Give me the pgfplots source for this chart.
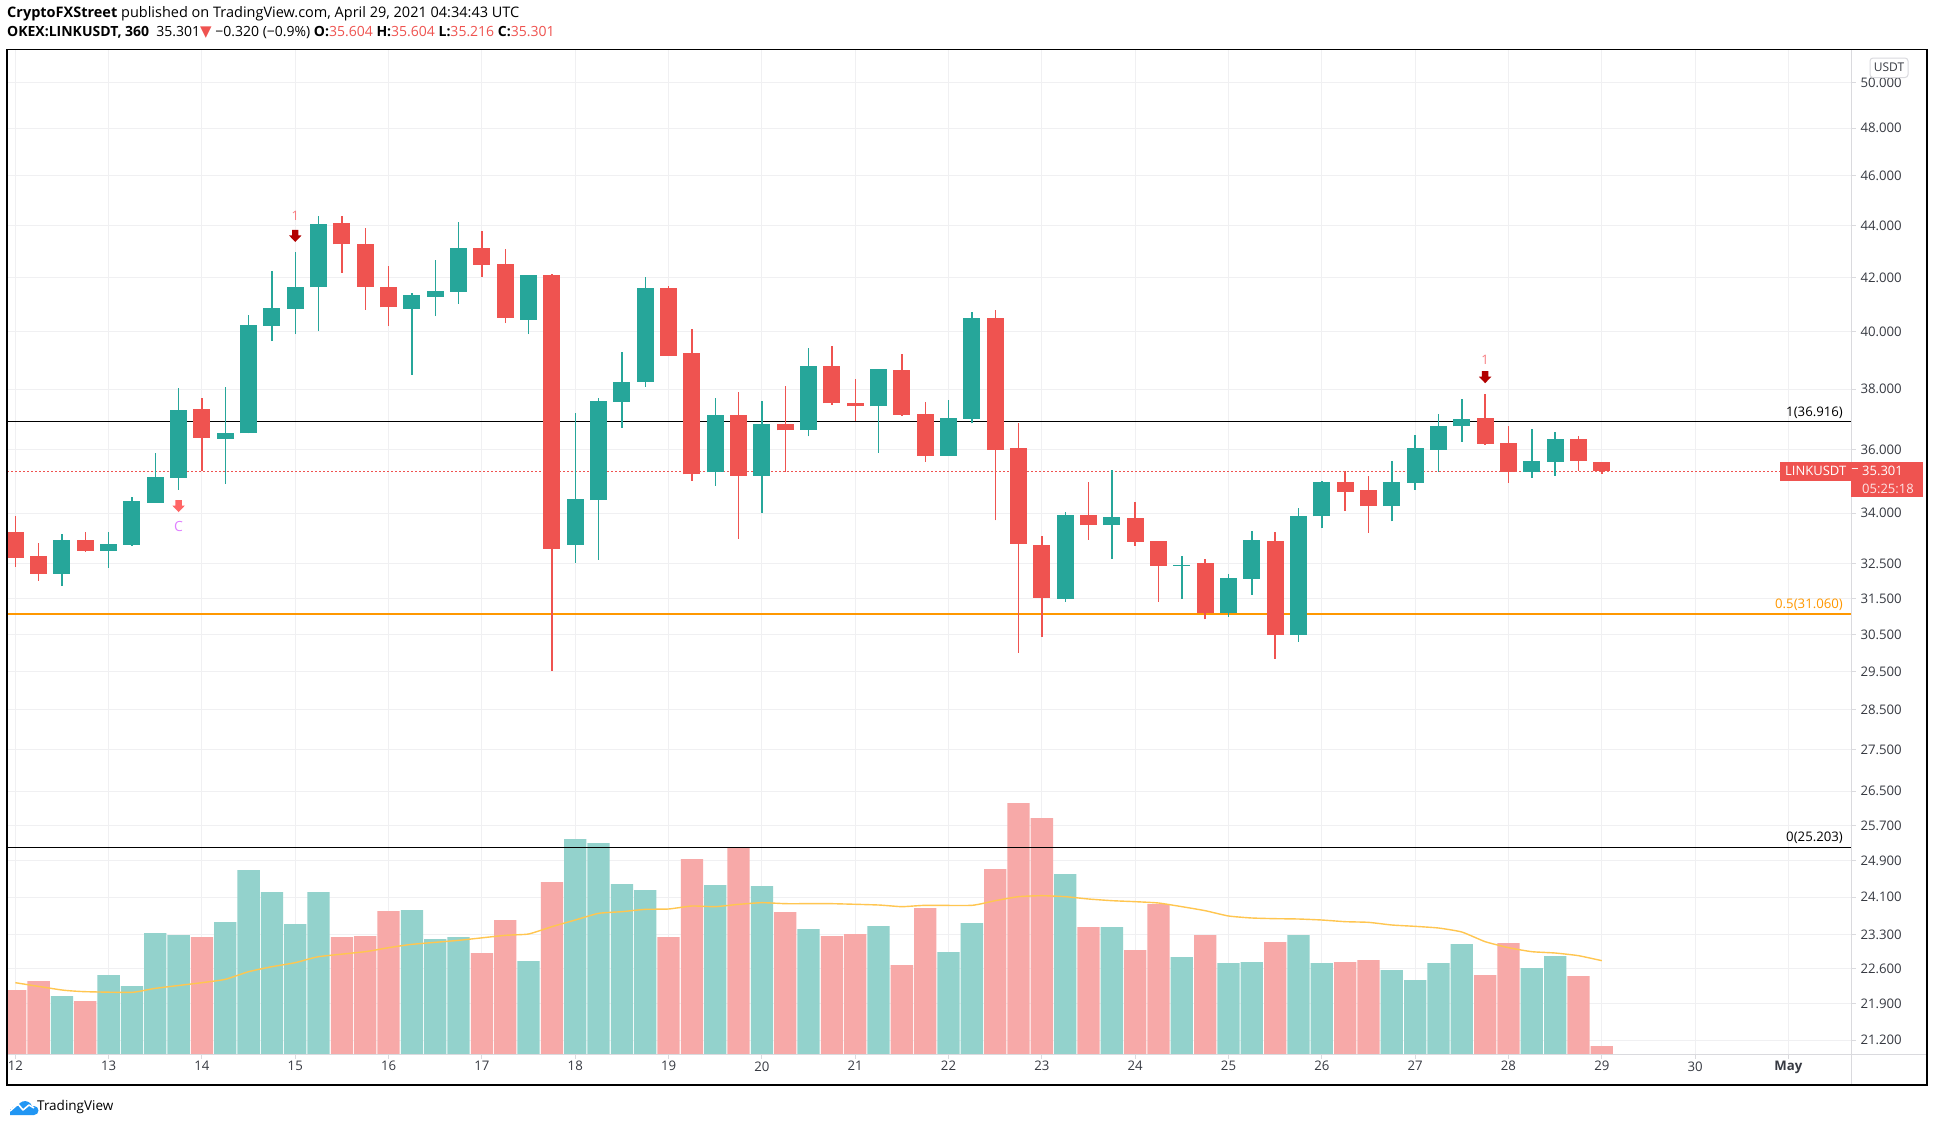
\documentclass[border=0pt]{standalone}
\usepackage{pgfplots}
\pgfplotsset{compat=1.18}
\usepackage{pgfplotstable}
\usepackage{fontspec}
\setmainfont{Open Sans}
\newfontfamily\symfont{DejaVu Sans}
\definecolor{cgreen}{HTML}{26A69A}
\definecolor{cred}{HTML}{EF5350}
\definecolor{vgreen}{RGB}{147,210,204}
\definecolor{vred}{RGB}{247,169,168}
\definecolor{macol}{RGB}{255,198,80}
\definecolor{fiborange}{RGB}{255,152,0}
\definecolor{gridc}{RGB}{240,240,242}
\definecolor{sepc}{RGB}{218,218,222}
\definecolor{tickc}{RGB}{55,58,66}
\definecolor{darkarrow}{RGB}{178,0,0}
\definecolor{lightred}{RGB}{255,102,102}
\definecolor{labelone}{RGB}{247,124,128}
\definecolor{violetc}{RGB}{224,128,255}
\definecolor{tvblue}{RGB}{33,150,243}

% candles: index, open, high, low, close
\pgfplotstableread{
i o h l c
2 32.20 33.36 31.86 33.19
4 32.87 33.42 32.38 33.07
5 33.05 34.49 33.02 34.36
6 34.31 35.88 34.31 35.12
7 35.10 38.02 34.72 37.30
9 36.35 38.09 34.91 36.54
10 36.52 40.60 36.52 40.23
11 40.21 42.24 39.67 40.86
12 40.84 42.97 39.92 41.64
13 41.62 44.38 40.02 44.05
17 40.84 41.42 38.49 41.35
18 41.27 42.67 40.56 41.49
19 41.46 44.13 41.01 43.13
22 40.43 42.09 39.92 42.09
24 33.05 37.18 32.52 34.42
25 34.40 37.69 32.61 37.59
26 37.57 39.28 36.71 38.23
27 38.24 42.01 38.07 41.61
30 35.26 37.69 34.85 37.13
32 35.16 37.59 33.99 36.84
34 36.65 39.42 36.42 38.79
37 37.41 38.69 35.89 38.69
40 35.80 37.63 35.80 37.03
41 37.01 40.72 36.85 40.50
45 31.49 34.04 31.40 33.95
47 33.64 35.34 32.64 33.89
50 32.43 32.72 31.49 32.47
52 31.08 32.19 30.99 32.08
53 32.06 33.45 31.60 33.19
55 30.49 34.17 30.30 33.92
56 33.90 34.99 33.55 34.96
59 34.21 35.63 33.75 34.96
60 34.94 36.47 34.72 36.04
61 35.99 37.16 35.29 36.77
62 36.75 37.66 36.25 37.00
65 35.29 36.67 35.10 35.63
66 35.61 36.57 35.16 36.34
}\upcandles

\pgfplotstableread{
i o h l c
0 33.42 33.92 32.40 32.67
1 32.72 33.10 32.00 32.20
3 33.19 33.42 32.84 32.87
8 37.33 37.69 35.31 36.38
14 44.09 44.38 42.18 43.26
15 43.28 43.90 40.79 41.65
16 41.64 42.44 40.20 40.88
20 43.13 43.78 42.01 42.47
21 42.51 43.09 40.31 40.51
23 42.09 42.12 29.52 32.93
28 41.61 41.68 39.15 39.15
29 39.24 40.09 35.01 35.20
31 37.13 37.92 33.23 35.16
33 36.84 38.12 35.29 36.62
35 38.79 39.49 37.47 37.51
36 37.53 38.34 36.92 37.41
38 38.65 39.21 37.10 37.14
39 37.16 37.56 35.61 35.80
42 40.50 40.80 33.78 35.99
43 36.04 36.86 30.00 33.08
44 33.04 33.30 30.44 31.52
46 33.95 34.96 33.20 33.64
48 33.86 34.33 33.02 33.14
49 33.16 33.16 31.40 32.43
51 32.51 32.63 30.91 31.08
54 33.16 33.42 29.84 30.49
57 34.96 35.30 34.08 34.66
58 34.71 35.15 33.40 34.21
63 37.03 37.82 36.15 36.19
64 36.21 36.77 34.94 35.29
67 36.34 36.44 35.32 35.64
68 35.604 35.604 35.216 35.301
}\downcandles

% volume (relative units)
\pgfplotstableread{
i v
2 174
4 237
5 204
6 363
7 357
9 396
10 552
11 486
12 390
13 486
17 432
18 345
19 351
22 279
24 645
25 633
26 510
27 492
30 507
32 504
34 375
37 384
40 306
41 393
45 540
47 381
50 291
52 273
53 276
55 357
56 273
59 252
60 222
61 273
62 330
65 258
66 294
}\volup

\pgfplotstableread{
i v
0 192
1 219
3 159
8 351
14 351
15 354
16 429
20 303
21 402
23 516
28 351
29 585
31 618
33 426
35 354
36 360
38 267
39 438
42 555
43 753
44 708
46 381
48 312
49 450
51 357
54 336
57 276
58 282
63 237
64 333
67 234
68 24
}\voldown

\pgfplotstableread{
i m
0 214
2 192
3 187
5 185
6 197
8 214
9 224
10 247
11 262
12 274
13 292
15 307
16 319
17 329
19 341
21 356
22 360
23 382
24 402
25 422
26 427
27 434
28 435
29 444
30 442
31 449
32 454
33 451
34 451
35 451
37 447
38 442
39 446
41 446
42 460
43 472
44 475
45 472
46 465
47 460
48 457
49 453
50 442
51 430
52 414
53 408
54 406
55 405
56 402
57 397
58 395
59 387
60 383
61 378
62 366
63 337
64 319
65 307
66 303
67 295
68 280
}\volma

\pgfdeclareplotmark{darrow}{%
  \pgfpathmoveto{\pgfqpoint{-3.2pt}{12pt}}%
  \pgfpathlineto{\pgfqpoint{3.2pt}{12pt}}%
  \pgfpathlineto{\pgfqpoint{3.2pt}{6.5pt}}%
  \pgfpathlineto{\pgfqpoint{6.2pt}{6.5pt}}%
  \pgfpathlineto{\pgfqpoint{0pt}{0pt}}%
  \pgfpathlineto{\pgfqpoint{-6.2pt}{6.5pt}}%
  \pgfpathlineto{\pgfqpoint{-3.2pt}{6.5pt}}%
  \pgfpathclose
  \pgfusepathqfill}

\pgfplotsset{
  chartgeom/.style={
    at={(7pt,-1054pt)}, anchor=south west, scale only axis,
    width=1844pt, height=1004.7pt,
    xmin=-0.356, xmax=78.68,
  },
}

\begin{document}
\begin{tikzpicture}[x=1pt,y=1pt]
\useasboundingbox (0,-1127) rectangle (1935,0);
\fill[white] (0,-1127) rectangle (1935,0);

% ---------- axis A: grid, ticks and labels ----------
\begin{axis}[chartgeom, ymode=log, ymin=20.94, ymax=51.52,
  axis line style={draw=none},
  xtick={0,4,...,76},
  xticklabels={12,13,14,15,16,17,18,19,20,21,22,23,24,25,26,27,28,29,30,{\bfseries May}},
  ytick={21.2,21.9,22.6,23.3,24.1,24.9,25.7,26.5,27.5,28.5,29.5,30.5,31.5,32.5,34,36,38,40,42,44,46,48,50},
  yticklabels={21.200,21.900,22.600,23.300,24.100,24.900,25.700,26.500,27.500,28.500,29.500,30.500,31.500,32.500,34.000,36.000,38.000,40.000,42.000,44.000,46.000,48.000,50.000},
  minor tick length=0pt,
  grid=major, major grid style={draw=gridc, line width=1pt},
  tick align=outside, major tick length=5pt,
  tick style={draw=sepc, line width=1pt},
  xtick pos=bottom, ytick pos=right, yticklabel pos=right,
  ticklabel style={font=\fontsize{13.2}{16}\selectfont, text=tickc},
  yticklabel style={anchor=west, xshift=1pt},
  xticklabel style={yshift=1pt},
]
\end{axis}

% ---------- axis B: volume ----------
\begin{axis}[chartgeom, ymin=0, ymax=3014, hide axis]
\addplot[ybar, bar width=0.955, bar shift=0pt, fill=vgreen, draw=none] table[x=i, y=v] {\volup};
\addplot[ybar, bar width=0.955, bar shift=0pt, fill=vred, draw=none] table[x=i, y=v] {\voldown};
\addplot[macol, line width=1.4pt, mark=none, smooth, tension=0.3] table[x=i, y=m] {\volma};
\end{axis}

% ---------- axis C: price ----------
\begin{axis}[chartgeom, ymode=log, ymin=20.94, ymax=51.52, hide axis]
% fib levels
\addplot[black, line width=1.3pt, mark=none] coordinates {(-0.356,36.916) (78.68,36.916)};
\addplot[fiborange, line width=1.3pt, mark=none] coordinates {(-0.356,31.06) (78.68,31.06)};
\addplot[black, line width=1.3pt, mark=none] coordinates {(-0.356,25.203) (78.68,25.203)};
% last price
\addplot[cred, line width=1pt, dash pattern=on 1.5pt off 2.5pt, mark=none] coordinates {(-0.356,35.301) (78.68,35.301)};
% wicks
\addplot[mark=none, draw=none, error bars/.cd, y dir=plus, y explicit, error mark=none,
  error bar style={draw=cgreen, solid, line width=1.4pt}]
  table[x=i, y=l, y error plus expr=\thisrow{h}-\thisrow{l}] {\upcandles};
\addplot[mark=none, draw=none, error bars/.cd, y dir=plus, y explicit, error mark=none,
  error bar style={draw=cred, solid, line width=1.4pt}]
  table[x=i, y=l, y error plus expr=\thisrow{h}-\thisrow{l}] {\downcandles};
% bodies
\addplot[mark=none, draw=none, error bars/.cd, y dir=plus, y explicit, error mark=none,
  error bar style={draw=cgreen, solid, line width=17pt}]
  table[x=i, y=o, y error plus expr=\thisrow{c}-\thisrow{o}] {\upcandles};
\addplot[mark=none, draw=none, error bars/.cd, y dir=plus, y explicit, error mark=none,
  error bar style={draw=cred, solid, line width=17pt}]
  table[x=i, y=c, y error plus expr=\thisrow{o}-\thisrow{c}] {\downcandles};
% signal arrows
\addplot[only marks, mark=darrow, color=darkarrow] coordinates {(12,43.35) (63,38.20)};
\addplot[only marks, mark=darrow, color=lightred] coordinates {(7,34.03)};
\node[text=labelone, font=\fontsize{13}{15}\selectfont] at (axis cs:12,44.37) {1};
\node[text=labelone, font=\fontsize{13}{15}\selectfont] at (axis cs:63,39.0) {1};
\node[text=violetc, font=\fontsize{14}{16}\selectfont] at (axis cs:7,33.60) {C};
% fib labels
\node[anchor=south east, inner sep=0pt, yshift=3pt, font=\fontsize{13.2}{16}\selectfont, text=black] at (axis cs:78.34,36.916) {1(36.916)};
\node[anchor=south east, inner sep=0pt, yshift=3pt, font=\fontsize{13.2}{16}\selectfont, text=fiborange] at (axis cs:78.34,31.06) {0.5(31.060)};
\node[anchor=south east, inner sep=0pt, yshift=3pt, font=\fontsize{13.2}{16}\selectfont, text=black] at (axis cs:78.34,25.203) {0(25.203)};
\end{axis}

% ---------- frame and separators ----------
\draw[sepc, line width=1pt] (1851,-49.3) -- (1851,-1085);
\draw[sepc, line width=1pt] (7,-1054) -- (1927,-1054);
\draw[black, line width=1.4pt] (7,-49.3) rectangle (1927,-1085);

% price label
\fill[cred] (1780,-461.7) rectangle (1923,-480.7);
\fill[cred] (1851,-480.7) rectangle (1923,-496.7);
\node[anchor=west, inner sep=0pt, text=white, font=\fontsize{13}{16}\selectfont] at (1785,-471.2) {LINKUSDT};
\node[anchor=center, inner sep=0pt, text=white, font=\fontsize{13}{16}\selectfont] at (1855,-471.2) {−};
\node[anchor=west, inner sep=0pt, text=white, font=\fontsize{13}{16}\selectfont] at (1862,-471.2) {35.301};
\node[anchor=west, inner sep=0pt, text=white!85!cred, font=\fontsize{13}{16}\selectfont] at (1862,-488.7) {05:25:18};

% currency box
\draw[sepc, fill=white, rounded corners=3pt, line width=1pt] (1870,-58) rectangle (1908,-77.5);
\node[inner sep=0pt, text=tickc, font=\fontsize{12}{14}\selectfont] at (1889,-67.7) {USDT};

% header
\node[anchor=west, inner sep=0pt, text=black, font=\fontsize{14.5}{16}\selectfont] at (7,-14)
  {\textbf{CryptoFXStreet} published on TradingView.com, April 29, 2021 04:34:43 UTC};
\node[anchor=west, inner sep=0pt, text=black, font=\fontsize{14}{16}\selectfont] at (7,-33)
  {\textbf{OKEX:LINKUSDT, 360}\ \ 35.301{\symfont\textcolor{cred}{\fontsize{15}{16}\selectfont▼}}\ −0.320 (−0.9\%) \textbf{O:}\textcolor{cred}{35.604} \textbf{H:}\textcolor{cred}{35.604} \textbf{L:}\textcolor{cred}{35.216} \textbf{C:}\textcolor{cred}{35.301}};

% footer logo
\begin{scope}[shift={(7,-1115)}]
  \fill[tvblue] (3,0) -- (27,0) arc (-90:90:4.5) -- (25,9) arc (20:160:7.5) -- (9,9) arc (90:270:4.5) -- cycle;
  \fill[tvblue] (3,0) rectangle (27,6);
  \draw[white, line width=1.6pt, line join=round] (3,4) -- (11,11) -- (16,5) -- (22,10) -- (27,7);
\end{scope}
\node[anchor=west, inner sep=0pt, text=black, font=\fontsize{13.5}{16}\selectfont] at (37,-1107) {TradingView};
\end{tikzpicture}
\end{document}
